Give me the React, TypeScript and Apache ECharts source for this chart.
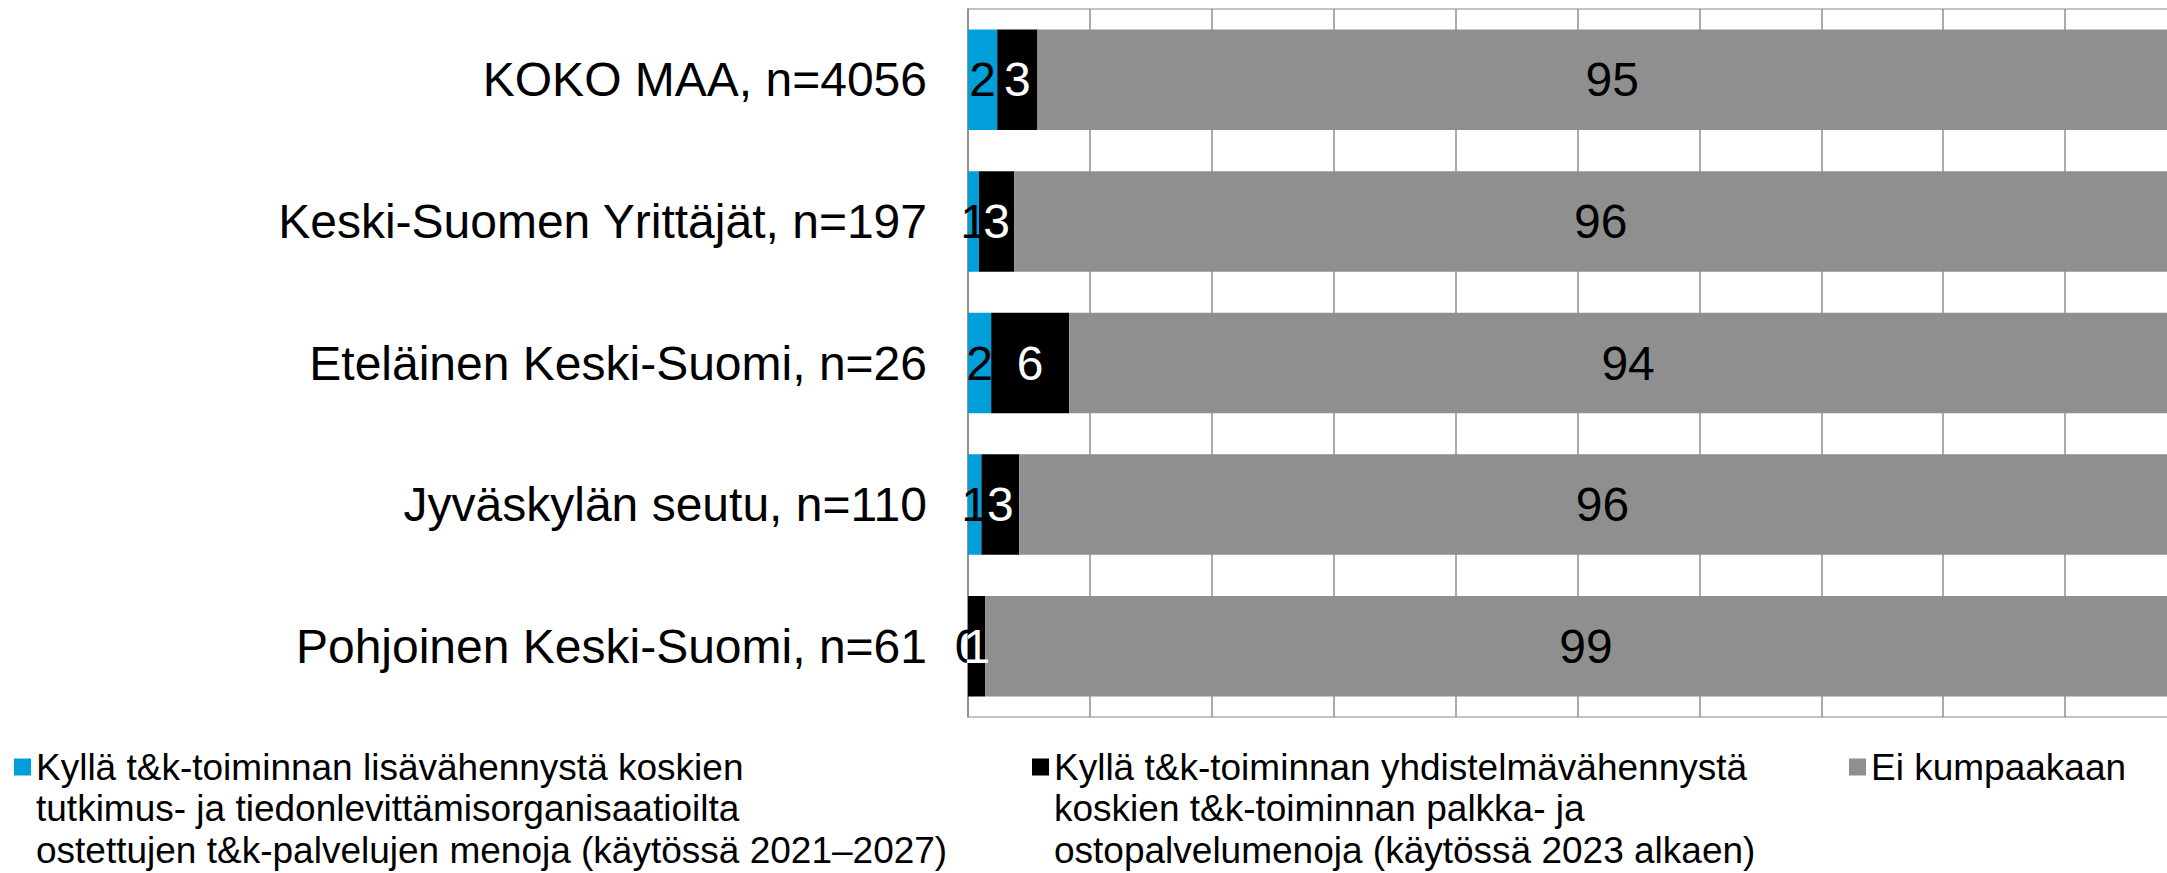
import React, { useEffect, useRef } from "react";
import * as echarts from "echarts";

const categories = [
  "KOKO MAA, n=4056",
  "Keski-Suomen Yrittäjät, n=197",
  "Eteläinen Keski-Suomi, n=26",
  "Jyväskylän seutu, n=110",
  "Pohjoinen Keski-Suomi, n=61",
];

const seriesNames = [
  "Kyllä t&k-toiminnan lisävähennystä koskien tutkimus- ja tiedonlevittämisorganisaatioilta ostettujen t&k-palvelujen menoja (käytössä 2021–2027)",
  "Kyllä t&k-toiminnan yhdistelmävähennystä koskien t&k-toiminnan palkka- ja ostopalvelumenoja (käytössä 2023 alkaen)",
  "Ei kumpaakaan",
];

const legendLines = [
  [
    "Kyllä t&k-toiminnan lisävähennystä koskien",
    "tutkimus- ja tiedonlevittämisorganisaatioilta",
    "ostettujen t&k-palvelujen menoja (käytössä 2021–2027)",
  ],
  [
    "Kyllä t&k-toiminnan yhdistelmävähennystä",
    "koskien t&k-toiminnan palkka- ja",
    "ostopalvelumenoja (käytössä 2023 alkaen)",
  ],
  ["Ei kumpaakaan"],
];

const lisavahennys = [2.4, 0.9, 1.9, 1.1, 0];
const yhdistelma = [3.3, 2.9, 6.4, 3.1, 1.4];
const eiKumpaakaan = [94.7, 96.4, 93.6, 95.7, 98.6];

const seriesValues = [lisavahennys, yhdistelma, eiKumpaakaan];
const colors = ["#009fda", "#000000", "#8f8f8f"];
const labelColors = ["#000000", "#ffffff", "#000000"];

const FONT = "'Liberation Sans', Arial, Helvetica, sans-serif";

export default function App() {
  const ref = useRef<HTMLDivElement>(null);

  useEffect(() => {
    if (!ref.current) return;
    const chart = echarts.init(ref.current, undefined, { renderer: "svg" });

    const lineH = 41.5;
    const legendLefts = [14, 1032, 1849];
    const legends = seriesNames.map((name, i) => {
      const lines = legendLines[i];
      const n = lines.length;
      // pad with blank lines above so that the first line sits at the icon's centre
      const padded = [...Array(n - 1).fill(" "), ...lines];
      const boxH = padded.length * lineH;
      return {
        show: true,
        data: [name],
        orient: "horizontal",
        left: legendLefts[i],
        top: 767 - boxH / 2,
        padding: 0,
        itemWidth: 17,
        itemHeight: 17,
        icon: "rect",
        selectedMode: false,
        formatter: () => padded.join("\n"),
        textStyle: {
          fontSize: 37,
          lineHeight: lineH,
          color: "#000000",
          fontFamily: FONT,
        },
      };
    });

    chart.setOption({
      animation: false,
      backgroundColor: "#ffffff",
      textStyle: { fontFamily: FONT },
      legend: legends,
      grid: {
        left: 968,
        top: 9,
        width: 1219,
        height: 708,
        show: true,
        borderColor: "#b0b0b0",
        borderWidth: 1.5,
        containLabel: false,
      },
      xAxis: {
        type: "value",
        min: 0,
        max: 100,
        interval: 10,
        axisLabel: { show: false },
        axisTick: { show: false },
        axisLine: { show: false },
        splitLine: { show: true, lineStyle: { color: "#8f8f8f", width: 1.5 } },
      },
      yAxis: {
        type: "category",
        inverse: true,
        data: categories,
        axisTick: { show: false },
        axisLine: { show: true, lineStyle: { color: "#8f8f8f", width: 1.5 } },
        axisLabel: {
          fontSize: 48,
          color: "#000000",
          margin: 41,
          fontFamily: FONT,
        },
      },
      series: seriesNames.map((name, i) => ({
        name,
        type: "bar",
        stack: "total",
        barCategoryGap: "29%",
        data: seriesValues[i],
        itemStyle: { color: colors[i] },
        label: {
          show: true,
          position: "inside",
          formatter: (p: any) => String(Math.round(p.value)),
          fontSize: 48,
          color: labelColors[i],
          fontFamily: FONT,
        },
      })),
    });

    return () => chart.dispose();
  }, []);

  return (
    <div
      style={{
        position: "fixed",
        left: 0,
        top: 0,
        width: 2167,
        height: 873,
        overflow: "hidden",
        background: "#ffffff",
      }}
    >
      <div ref={ref} style={{ width: 2400, height: 873 }} />
    </div>
  );
}
